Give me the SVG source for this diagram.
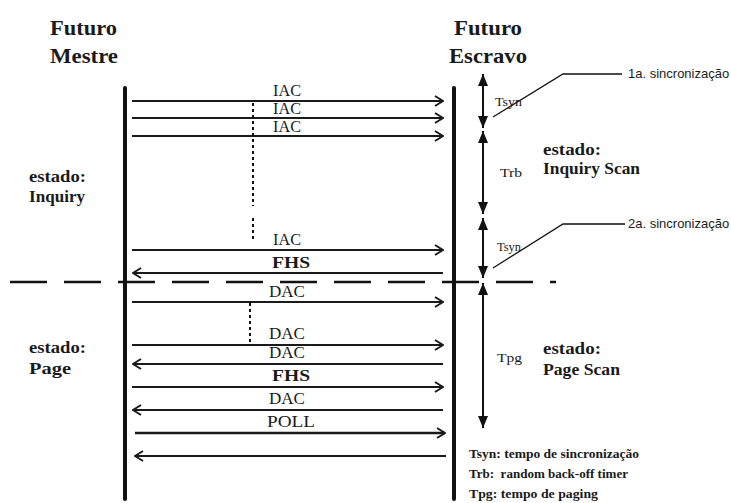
<svg xmlns="http://www.w3.org/2000/svg" width="731" height="503" viewBox="0 0 731 503">
<style>
.serif{font-family:"Liberation Serif","Times New Roman",serif;fill:#1a1a1a}
.head{font-size:21px;font-weight:bold}
.state{font-size:17px;font-weight:bold}
.msg{font-size:17px}
.tl{font-size:12px}
.leg{font-size:12px;font-weight:bold}
.sans{font-family:"Liberation Sans",Arial,sans-serif;font-size:13px;fill:#1a1a1a}
.life{stroke:#111;stroke-width:4;fill:none;stroke-linecap:round}
.m{stroke:#1a1a1a;stroke-width:2;fill:none;marker-end:url(#open)}
.dot{stroke:#111;stroke-width:2;stroke-dasharray:3 3;fill:none}
.dim{stroke:#111;stroke-width:2;fill:none;marker-start:url(#tri);marker-end:url(#tri)}
.lead{stroke:#111;stroke-width:1.3;fill:none}
</style>
<defs>
<marker id="open" markerUnits="userSpaceOnUse" viewBox="0 0 10 12" markerWidth="10" markerHeight="12" refX="9" refY="6" orient="auto">
<path d="M1,1 L9,6 L1,11" fill="none" stroke="#1a1a1a" stroke-width="2"/>
</marker>
<marker id="tri" markerUnits="userSpaceOnUse" viewBox="0 0 12 10" markerWidth="12" markerHeight="10" refX="12" refY="5" orient="auto-start-reverse">
<path d="M0,0 L12,5 L0,10 z" fill="#111"/>
</marker>
</defs>
<rect width="731" height="503" fill="#fff"/>

<g id="mestre">
<text class="serif head" x="50" y="35" textLength="67" lengthAdjust="spacingAndGlyphs">Futuro</text>
<text class="serif head" x="50" y="63" textLength="68" lengthAdjust="spacingAndGlyphs">Mestre</text>
<line class="life" x1="125" y1="88" x2="125" y2="499"/>
</g>
<g id="escravo">
<text class="serif head" x="454" y="35" textLength="68" lengthAdjust="spacingAndGlyphs">Futuro</text>
<text class="serif head" x="449" y="63" textLength="78" lengthAdjust="spacingAndGlyphs">Escravo</text>
<line class="life" x1="454" y1="88" x2="454" y2="499"/>
</g>

<g id="states">
<text class="serif state" x="29" y="182" textLength="57" lengthAdjust="spacingAndGlyphs">estado:</text>
<text class="serif state" x="29" y="202" textLength="56" lengthAdjust="spacingAndGlyphs">Inquiry</text>
<text class="serif state" x="29" y="353" textLength="57" lengthAdjust="spacingAndGlyphs">estado:</text>
<text class="serif state" x="29" y="374" textLength="42" lengthAdjust="spacingAndGlyphs">Page</text>
<text class="serif state" x="543" y="155" textLength="58" lengthAdjust="spacingAndGlyphs">estado:</text>
<text class="serif state" x="543" y="174" textLength="97" lengthAdjust="spacingAndGlyphs">Inquiry Scan</text>
<text class="serif state" x="543" y="354" textLength="58" lengthAdjust="spacingAndGlyphs">estado:</text>
<text class="serif state" x="543" y="375" textLength="77" lengthAdjust="spacingAndGlyphs">Page Scan</text>
</g>

<g id="separator">
<line x1="10" y1="282" x2="556" y2="282" stroke="#111" stroke-width="2.5" stroke-dasharray="37 17"/>
</g>

<g id="connectors">
<line class="m" x1="132" y1="101" x2="443" y2="101"/>
<line class="m" x1="132" y1="118" x2="443" y2="118"/>
<line class="m" x1="132" y1="136" x2="443" y2="136"/>
<line class="m" x1="132" y1="250" x2="443" y2="250"/>
<line class="m" x1="443" y1="273" x2="133" y2="273"/>
<line class="m" x1="132" y1="302" x2="443" y2="302"/>
<line class="m" x1="132" y1="345" x2="443" y2="345"/>
<line class="m" x1="443" y1="364" x2="133" y2="364"/>
<line class="m" x1="132" y1="387" x2="443" y2="387"/>
<line class="m" x1="443" y1="410" x2="133" y2="410"/>
<line class="m" x1="135" y1="433" x2="445" y2="433" style="stroke-width:2.5"/>
<line class="m" x1="446" y1="456" x2="135" y2="456"/>
<line class="dot" x1="253" y1="103" x2="253" y2="206"/>
<line class="dot" x1="253" y1="218" x2="253" y2="240"/>
<line class="dot" x1="250" y1="303" x2="250" y2="344"/>
</g>

<g id="labels">
<text class="serif msg" x="273" y="96" textLength="28" lengthAdjust="spacingAndGlyphs">IAC</text>
<text class="serif msg" x="273" y="114" textLength="28" lengthAdjust="spacingAndGlyphs">IAC</text>
<text class="serif msg" x="273" y="132" textLength="28" lengthAdjust="spacingAndGlyphs">IAC</text>
<text class="serif msg" x="273" y="245" textLength="28" lengthAdjust="spacingAndGlyphs">IAC</text>
<text class="serif msg" x="272" y="268" textLength="38" lengthAdjust="spacingAndGlyphs" font-weight="bold">FHS</text>
<text class="serif msg" x="269" y="297" textLength="36" lengthAdjust="spacingAndGlyphs">DAC</text>
<text class="serif msg" x="269" y="339" textLength="36" lengthAdjust="spacingAndGlyphs">DAC</text>
<text class="serif msg" x="269" y="358" textLength="36" lengthAdjust="spacingAndGlyphs">DAC</text>
<text class="serif msg" x="272" y="381" textLength="38" lengthAdjust="spacingAndGlyphs" font-weight="bold">FHS</text>
<text class="serif msg" x="269" y="404" textLength="36" lengthAdjust="spacingAndGlyphs">DAC</text>
<text class="serif msg" x="267" y="427" textLength="48" lengthAdjust="spacingAndGlyphs">POLL</text>
</g>

<g id="timers">
<line class="dim" x1="483" y1="74" x2="483" y2="128"/>
<line class="dim" x1="483" y1="131" x2="483" y2="214"/>
<line class="dim" x1="483" y1="218" x2="483" y2="278"/>
<line class="dim" x1="483" y1="283" x2="483" y2="428"/>
<text class="serif tl" x="495" y="106" textLength="27" lengthAdjust="spacingAndGlyphs">Tsyn</text>
<text class="serif tl" x="500" y="177" textLength="22" lengthAdjust="spacingAndGlyphs">Trb</text>
<text class="serif tl" x="497" y="251" textLength="24" lengthAdjust="spacingAndGlyphs">Tsyn</text>
<text class="serif tl" x="497" y="362" textLength="25" lengthAdjust="spacingAndGlyphs">Tpg</text>
</g>

<g id="sync1">
<polyline class="lead" points="493,117 563,74 622,74"/>
<text class="sans" x="628" y="78">1a. sincronização</text>
</g>
<g id="sync2">
<polyline class="lead" points="493,268 563,224 625,224"/>
<text class="sans" x="628" y="228">2a. sincronização</text>
</g>

<g id="legend">
<text class="serif leg" x="469" y="458" textLength="170" lengthAdjust="spacingAndGlyphs">Tsyn: tempo de sincronização</text>
<text class="serif leg" x="469" y="478" textLength="159" lengthAdjust="spacingAndGlyphs" xml:space="preserve">Trb:  random back-off timer</text>
<text class="serif leg" x="469" y="498" textLength="129" lengthAdjust="spacingAndGlyphs">Tpg: tempo de paging</text>
</g>
</svg>
